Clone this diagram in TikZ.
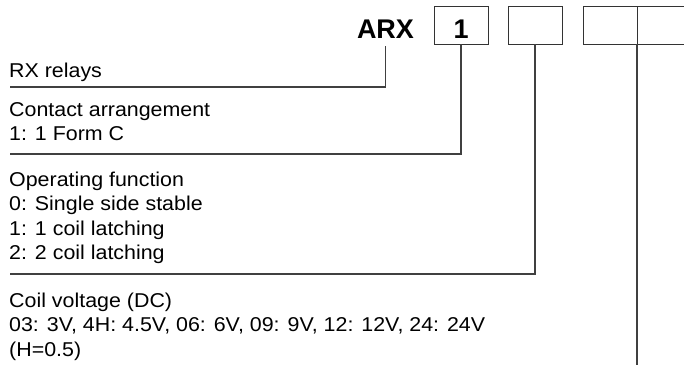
\documentclass[tikz,border=0pt]{standalone}
\usepackage{fontspec}
\setmainfont{Liberation Sans}
\newfontfamily\descfont[FakeStretch=1.07]{Liberation Sans}
\usetikzlibrary{positioning}

\tikzset{
	code/.style={font=\fontsize{27}{32}\selectfont\bfseries},
	codebox/.style={code, draw=black!80, line width=1pt, minimum width=54pt, minimum height=38pt, text height=32pt, text depth=6pt, inner sep=0pt, outer sep=0pt},
	desc/.style={anchor=base west, inner sep=0pt, font=\descfont\fontsize{20}{24}\selectfont},
	lead/.style={draw=black!75, line width=1.2pt},
}

\begin{document}
\begin{tikzpicture}[x=1pt, y=-1pt]
		%%%%% START %%%%%
		\clip (0,0) rectangle (684,364);
		
		% ordering code
		\node[code, anchor=base, inner sep=8pt] (arx) at (385.5,38) {ARX};
		\node[codebox] (box1) at (461,25) {1};
		\node[codebox, right=20pt of box1] (box2) {};
		\node[codebox, right=21pt of box2] (box3) {};
		\node[codebox, right=0pt of box3] (box4) {};
		
		% descriptions
		\node[desc] (rx) at (9,77) {RX relays};
		
		\node[desc] (contact) at (9,116) {Contact arrangement};
		\node[desc] (contact1) at (9,140.5) {1: 1 Form C};
		
		\node[desc] (oper) at (9,186) {Operating function};
		\node[desc] (oper0) at (9,210.5) {0: Single side stable};
		\node[desc] (oper1) at (9,235) {1: 1 coil latching};
		\node[desc] (oper2) at (9,259.5) {2: 2 coil latching};
		
		\node[desc] (coil) at (9,307) {Coil voltage (DC)};
		\node[desc] (coilv) at (9,331.5) {03: 3V, 4H: 4.5V, 06: 6V, 09: 9V, 12: 12V, 24: 24V};
		\node[desc] (coilh) at (9,356) {(H=0.5)};
		
		% leader lines
		\coordinate (rxend) at (10,87);
		\coordinate (contactend) at (10,154);
		\coordinate (operend) at (10,274);
		\coordinate (coilend) at (637,370);
		
		\draw[lead] (arx.south) |- (rxend);
		\draw[lead] (box1.south) |- (contactend);
		\draw[lead] (box2.south) |- (operend);
		\draw[lead] (box3.south east) -- (coilend);
		
		%%%%% END %%%%%
	\end{tikzpicture}
\end{document}
